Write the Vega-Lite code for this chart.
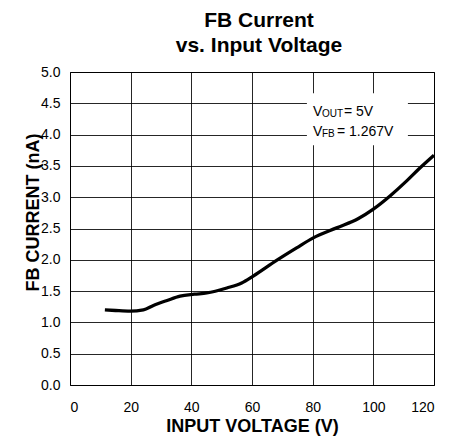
{
  "$schema": "https://vega.github.io/schema/vega-lite/v6.json",
  "width": 364,
  "height": 313,
  "autosize": {"type": "none"},
  "padding": {"left": 70, "top": 72, "right": 29, "bottom": 61},
  "background": "white",
  "title": {
    "text": ["FB Current", "vs. Input Voltage"],
    "font": "Liberation Sans",
    "fontSize": 21,
    "fontWeight": "bold",
    "lineHeight": 25,
    "color": "#000",
    "anchor": "middle",
    "offset": 9,
    "dx": 7
  },
  "config": {
    "view": {"stroke": "#000", "strokeWidth": 1},
    "axis": {
      "grid": true,
      "gridColor": "#000",
      "gridWidth": 1,
      "gridOpacity": 0.85,
      "domain": false,
      "ticks": false,
      "labelFont": "Liberation Sans",
      "labelFontSize": 14,
      "labelColor": "#000",
      "labelOverlap": false,
      "titleFont": "Liberation Sans",
      "titleFontSize": 18,
      "titleFontWeight": "bold",
      "titleColor": "#000"
    }
  },
  "datasets": {
    "curve": [
      {"v": 11.5, "i": 1.20},
      {"v": 15, "i": 1.19},
      {"v": 19.8, "i": 1.18},
      {"v": 24.2, "i": 1.20},
      {"v": 27.5, "i": 1.27},
      {"v": 32, "i": 1.35},
      {"v": 36.3, "i": 1.42},
      {"v": 41, "i": 1.45},
      {"v": 45.1, "i": 1.47},
      {"v": 51.7, "i": 1.55},
      {"v": 56.6, "i": 1.63},
      {"v": 60.4, "i": 1.74},
      {"v": 68.1, "i": 1.99},
      {"v": 74.7, "i": 2.19},
      {"v": 80.2, "i": 2.35},
      {"v": 87.9, "i": 2.51},
      {"v": 95.1, "i": 2.66},
      {"v": 100, "i": 2.81},
      {"v": 105.5, "i": 3.02},
      {"v": 111, "i": 3.26},
      {"v": 115, "i": 3.45},
      {"v": 120, "i": 3.67}
    ],
    "one": [{"k": 1}]
  },
  "encoding": {
    "x": {
      "type": "quantitative",
      "scale": {"domain": [0, 120], "nice": false},
      "axis": {
        "values": [0, 20, 40, 60, 80, 100, 120],
        "labelPadding": 15,
        "title": "INPUT VOLTAGE (V)",
        "titleBaseline": "alphabetic",
        "titleY": 46
      }
    },
    "y": {
      "type": "quantitative",
      "scale": {"domain": [0, 5], "nice": false},
      "axis": {
        "values": [0, 0.5, 1, 1.5, 2, 2.5, 3, 3.5, 4, 4.5, 5],
        "format": ".1f",
        "labelPadding": 10,
        "title": "FB CURRENT (nA)",
        "titleAngle": -90,
        "titleBaseline": "alphabetic",
        "titleAlign": "center",
        "titleX": -32,
        "titleY": 140
      }
    }
  },
  "layer": [
    {
      "data": {"name": "curve"},
      "mark": {"type": "line", "color": "#000", "strokeWidth": 3.3, "interpolate": "monotone"},
      "encoding": {
        "x": {"field": "v", "type": "quantitative"},
        "y": {"field": "i", "type": "quantitative"}
      }
    },
    {
      "data": {"name": "one"},
      "mark": {"type": "rect", "color": "white"},
      "encoding": {
        "x": {"datum": 78.1, "type": "quantitative"},
        "x2": {"datum": 111.4},
        "y": {"datum": 3.83, "type": "quantitative"},
        "y2": {"datum": 4.66}
      }
    },
    {
      "data": {"name": "one"},
      "mark": {"type": "text", "text": "V", "align": "left", "baseline": "alphabetic", "font": "Liberation Sans", "fontSize": 14, "color": "#000"},
      "encoding": {"x": {"datum": 80.1, "type": "quantitative"}, "y": {"datum": 4.297, "type": "quantitative"}}
    },
    {
      "data": {"name": "one"},
      "mark": {"type": "text", "text": "OUT", "align": "left", "baseline": "alphabetic", "font": "Liberation Sans", "fontSize": 10, "dx": 9, "dy": 1, "color": "#000"},
      "encoding": {"x": {"datum": 80.1, "type": "quantitative"}, "y": {"datum": 4.297, "type": "quantitative"}}
    },
    {
      "data": {"name": "one"},
      "mark": {"type": "text", "text": "= 5V", "align": "left", "baseline": "alphabetic", "font": "Liberation Sans", "fontSize": 14, "dx": 31, "color": "#000"},
      "encoding": {"x": {"datum": 80.1, "type": "quantitative"}, "y": {"datum": 4.297, "type": "quantitative"}}
    },
    {
      "data": {"name": "one"},
      "mark": {"type": "text", "text": "V", "align": "left", "baseline": "alphabetic", "font": "Liberation Sans", "fontSize": 14, "color": "#000"},
      "encoding": {"x": {"datum": 80.1, "type": "quantitative"}, "y": {"datum": 3.97, "type": "quantitative"}}
    },
    {
      "data": {"name": "one"},
      "mark": {"type": "text", "text": "FB", "align": "left", "baseline": "alphabetic", "font": "Liberation Sans", "fontSize": 10, "dx": 9, "dy": 1, "color": "#000"},
      "encoding": {"x": {"datum": 80.1, "type": "quantitative"}, "y": {"datum": 3.97, "type": "quantitative"}}
    },
    {
      "data": {"name": "one"},
      "mark": {"type": "text", "text": "= 1.267V", "align": "left", "baseline": "alphabetic", "font": "Liberation Sans", "fontSize": 14, "dx": 24, "color": "#000"},
      "encoding": {"x": {"datum": 80.1, "type": "quantitative"}, "y": {"datum": 3.97, "type": "quantitative"}}
    }
  ]
}
